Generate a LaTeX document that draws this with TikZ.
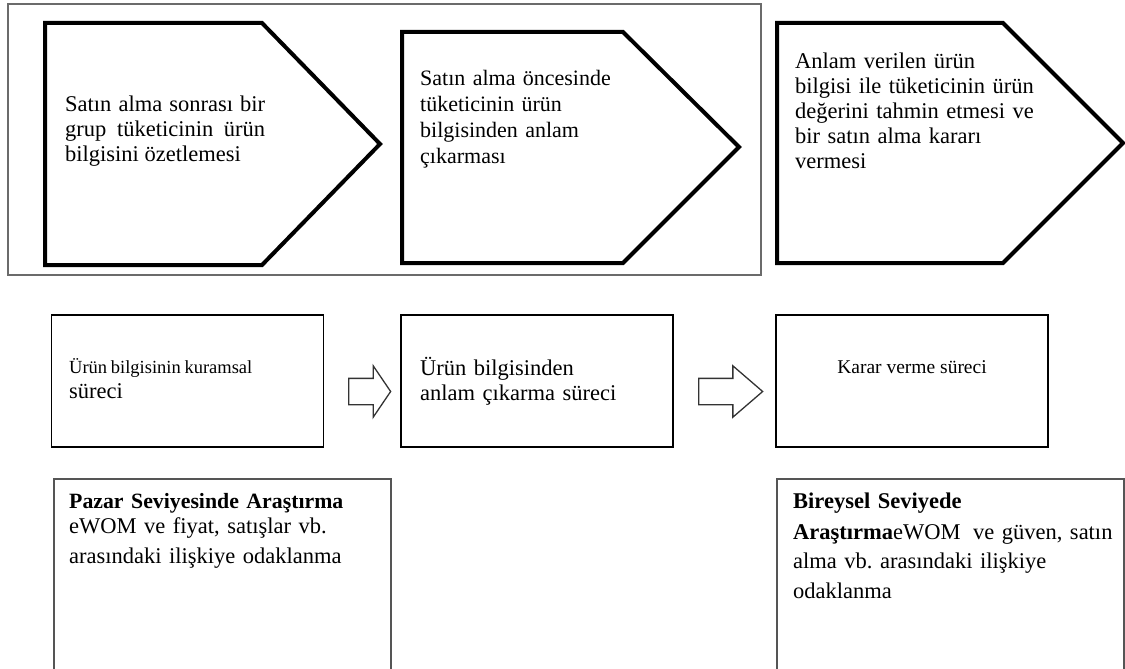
\documentclass[tikz,border=0pt]{standalone}
\usepackage{fontspec}
\setmainfont{Liberation Serif}
\usepackage{tikz}
\usetikzlibrary{shapes.arrows,positioning,calc}
\definecolor{frameGray}{HTML}{6B6B6B}
\definecolor{boxGray}{HTML}{555555}
\definecolor{arrowGray}{HTML}{333333}
\newcommand{\bigtext}{\fontsize{22.5}{25.5}\selectfont}
\frenchspacing

\begin{document}
\begin{tikzpicture}[
    x=1pt, y=-1pt,
    frameEdge/.style={draw=frameGray, line width=1.5pt},
    pentEdge/.style={draw=black, line width=4pt, line join=miter},
    procBox/.style={rectangle, draw=black, line width=1.8pt, inner sep=0pt, minimum width=272pt, minimum height=132pt},
    resBox/.style={rectangle, draw=boxGray, line width=1.8pt, inner sep=0pt, anchor=north west, minimum height=240pt},
    txt/.style={inner sep=0pt, anchor=base west, align=left, font=\bigtext},
    blockArrow/.style={single arrow, draw=arrowGray, line width=1.3pt, fill=white, inner xsep=0pt, inner ysep=12.5pt, single arrow head extend=12.5pt, anchor=tail}
]
\useasboundingbox (0,0) rectangle (1125,669);
\clip (0,0) rectangle (1125,669);

\draw[frameEdge] (8,4) rectangle (761,275);

\draw[pentEdge] (45,23) -- (262,23) -- (380,144) -- (262,265) -- (45,265) -- cycle;
\draw[pentEdge] (402,32) -- (623,32) -- (739,147) -- (623,263) -- (402,263) -- cycle;
\draw[pentEdge] (777,23) -- (1003,23) -- (1123,143) -- (1003,263) -- (777,263) -- cycle;

\node[txt, text width=200pt, align=justify] (t1) at (65,111) {Satın alma sonrası bir\linebreak grup tüketicinin ürün\linebreak bilgisini özetlemesi};
\node[txt, text width=220pt, font=\fontsize{22}{26}\selectfont] (t2) at (420,85) {Satın alma öncesinde\\tüketicinin ürün\\bilgisinden anlam\\çıkarması};
\node[txt, text width=250pt, font=\fontsize{22.5}{25}\selectfont] (t3) at (795,69) {Anlam verilen ürün\\bilgisi ile tüketicinin ürün\\değerini tahmin etmesi ve\\bir satın alma kararı\\vermesi};

\node[procBox] (pa) at (187.5,381) {};
\node[procBox] (pb) at (537,381) {};
\node[procBox] (pc) at (912,381) {};

\node[blockArrow, single arrow tip angle=111.6, minimum height=42pt] (ar1) at (348,391.5) {};
\node[blockArrow, single arrow tip angle=81.5, minimum height=64pt] (ar2) at (698,391.5) {};

\node[txt, text width=240pt] (ta) at (69,373) {{\fontsize{18.5}{20}\selectfont\spaceskip=0.2em Ürün bilgisinin kuramsal}\\süreci};
\node[txt, text width=240pt, font=\fontsize{22.5}{25}\selectfont] (tb) at (420,375) {Ürün bilgisinden\\anlam çıkarma süreci};
\node[txt, anchor=base, font=\fontsize{19.5}{22}\selectfont] (tc) at (912,373) {Karar verme süreci};

\node[resBox, minimum width=337pt] (ra) at (53,478) {};
\node[resBox, minimum width=347pt] (rb) at (776,478) {};

\node[txt, text width=320pt] (td) at (69,508) {{\fontsize{21.8}{25}\selectfont\bfseries Pazar Seviyesinde Araştırma}\\eWOM ve fiyat, satışlar vb.\\[4pt]arasındaki ilişkiye odaklanma};
\node[txt, text width=340pt, font=\fontsize{22.5}{29.5}\selectfont] (te) at (793,508) {\textbf{Bireysel Seviyede}\\[1.5pt]\textbf{Araştırma}eWOM\hspace{5pt} ve güven, satın\\alma vb. arasındaki ilişkiye\\odaklanma};

\end{tikzpicture}
\end{document}
